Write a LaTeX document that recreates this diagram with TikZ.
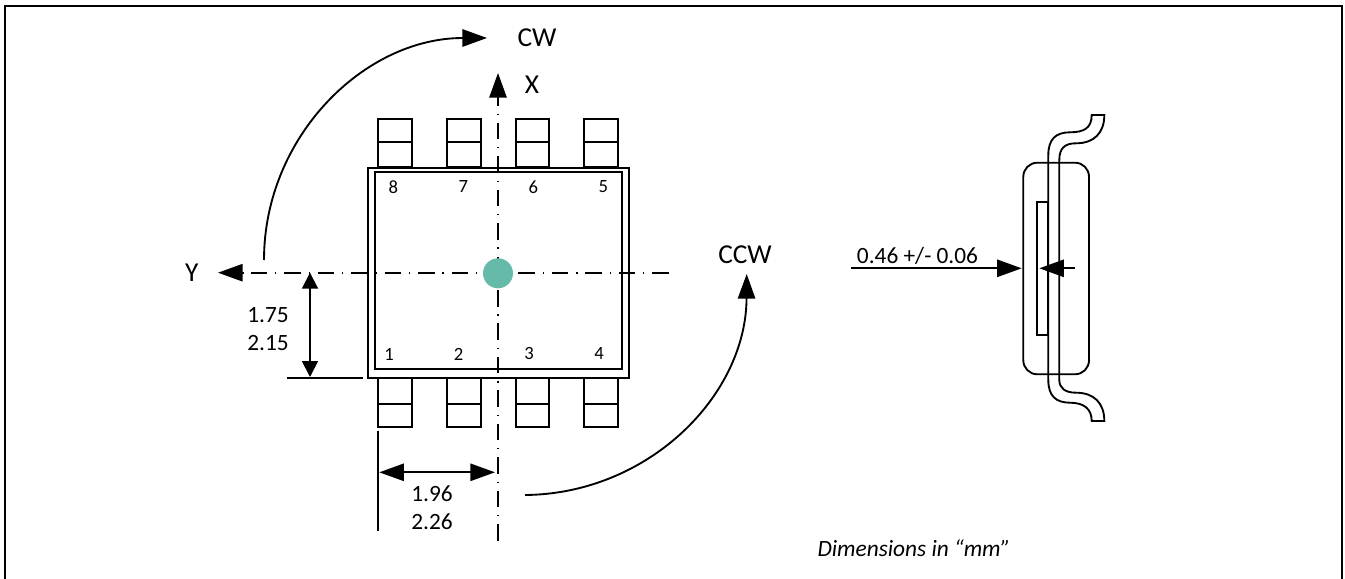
\documentclass[tikz,border=0pt]{standalone}
\usepackage{fontspec}
\setmainfont{Carlito}
\usetikzlibrary{arrows.meta}
\tikzset{
 x=0.75pt,y=-0.75pt,
 ln/.style={line width=1.4pt,black},
 axis/.style={line width=1.3pt,black,dash pattern=on 12.4pt off 5.9pt on 0.9pt off 5.9pt},
 tip/.style={-{Triangle[length=18.5pt,width=13pt]}},
 both/.style={{Triangle[length=18.5pt,width=13pt]}-{Triangle[length=18.5pt,width=13pt]}},
 bothsmall/.style={{Triangle[length=12pt,width=12pt]}-{Triangle[length=12pt,width=12pt]}},
 lab/.style={font=\fontsize{17.5}{20}\selectfont,inner sep=0pt},
 biglab/.style={font=\fontsize{20.5}{24}\selectfont,inner sep=0pt},
 pinlab/.style={font=\fontsize{14}{16}\selectfont,inner sep=0pt},
 pinbox/.style={draw,line width=1.4pt,minimum width=25.2pt,inner sep=0pt}
}
\begin{document}
\begin{tikzpicture}
\useasboundingbox (0,0) rectangle (1345,578);
\draw[line width=1.5pt] (5,6) rectangle (1342,580);
% axes
\coordinate (xa0) at (498,89.2); \coordinate (xa1) at (498,541);
\coordinate (ya0) at (250.7,272.7); \coordinate (ya1) at (670,272.7);
\draw[axis] (xa0) -- (xa1);
\draw[axis] (ya0) -- (ya1);
\coordinate (xb) at (498,99); \coordinate (xt) at (498,73);
\coordinate (yb) at (244,272.7); \coordinate (yt) at (218,272.7);
\draw[ln,tip] (xb) -- (xt);
\draw[ln,tip] (yb) -- (yt);
% body
\draw[ln] (368.2,167.7) rectangle (629.3,378.3);
\draw[ln] (375.3,172.3) rectangle (621.7,369.3);
% pins
\foreach \n/\x in {p8/395.2,p7/463.9,p6/532.5,p5/601.2}{
 \node[pinbox,minimum height=35.9pt] (\n) at (\x,143.3) {};
 \draw[ln] (\x-16.8,142.3) -- (\x+16.8,142.3);
}
\foreach \n/\x in {p1/395.2,p2/463.9,p3/532.5,p4/601.2}{
 \node[pinbox,minimum height=36.3pt] (\n) at (\x,402.5) {};
 \draw[ln] (\x-16.8,404) -- (\x+16.8,404);
}
% pin labels
\node[pinlab] (n8) at (393.3,187) {8};
\node[pinlab] (n7) at (463.3,187) {7};
\node[pinlab] (n6) at (533.3,187) {6};
\node[pinlab] (n5) at (603.3,187) {5};
\node[pinlab] (n1) at (389,354) {1};
\node[pinlab] (n2) at (458.5,354) {2};
\node[pinlab] (n3) at (529,354) {3};
\node[pinlab] (n4) at (599,354) {4};
% centre
\node[circle,fill={rgb,255:red,102;green,187;blue,168},minimum size=22.5pt,inner sep=0pt] (c) at (498,273.3) {};
% rotation arcs
\coordinate (cwa) at (264,260); \coordinate (cwb) at (487,38);
\draw[ln,tip] (cwa) .. controls (264,137) and (364,38) .. (cwb);
\coordinate (cca) at (525,495); \coordinate (ccb) at (746.7,274);
\draw[ln,tip] (cca) .. controls (648,494) and (746,396) .. (ccb);
\node[biglab] (cw) at (537,38) {CW};
\node[biglab] (x) at (532,85) {X};
\node[biglab] (y) at (191.7,272.7) {Y};
\node[biglab] (ccw) at (745,255) {CCW};
% dimension Y
\coordinate (dy1) at (286.7,377.8); \coordinate (dy2) at (362.7,377.8);
\draw[ln] (dy1) -- (dy2);
\coordinate (dy3) at (310,272.7); \coordinate (dy4) at (310,377);
\draw[ln,bothsmall] (dy3) -- (dy4);
\node[lab] (d175) at (268,315) {1.75};
\node[lab] (d215) at (268,343) {2.15};
% dimension X
\coordinate (dx1) at (378.3,430.7); \coordinate (dx2) at (378.3,530.7);
\draw[ln] (dx1) -- (dx2);
\coordinate (dx3) at (379.3,472.3); \coordinate (dx4) at (495,472.3);
\draw[ln,both] (dx3) -- (dx4);
\node[lab] (d196) at (432,493.3) {1.96};
\node[lab] (d226) at (432,521.7) {2.26};
% side view
\draw[ln,rounded corners=10.5pt] (1023.3,162.7) rectangle (1089,374.3);
\draw[ln] (1037.3,201.7) rectangle (1048.3,335);
\draw[ln] (1048.3,155) .. controls (1048.3,139) and (1056,132.3) .. (1070,132.3)
 .. controls (1084,132.3) and (1091.7,128) .. (1091.7,115) -- (1104.3,115)
 .. controls (1104.3,133) and (1094,143.3) .. (1076,143.3) .. controls (1065,143.3) and (1059.3,148) .. (1059.3,160)
 -- (1059.3,380) .. controls (1059.3,388) and (1065,392.7) .. (1076,392.7)
 .. controls (1094,392.7) and (1104.3,403) .. (1104.3,421) -- (1091.7,421)
 .. controls (1091.7,409) and (1084,402.7) .. (1070,402.7) .. controls (1056,402.7) and (1048.3,396) .. (1048.3,380) -- cycle;
\coordinate (t0) at (851,268.3); \coordinate (t1) at (1021.7,268.3);
\draw[ln,tip] (t0) -- (t1);
\coordinate (t2) at (1075,268.3); \coordinate (t3) at (1039.3,268.3);
\draw[ln,tip] (t2) -- (t3);
\node[lab] (th) at (917.5,256) {0.46 +/- 0.06};
\node[font=\fontsize{17.5}{20}\selectfont\itshape,inner sep=0pt] (dim) at (914,548) {Dimensions in “mm”};
\end{tikzpicture}
\end{document}
